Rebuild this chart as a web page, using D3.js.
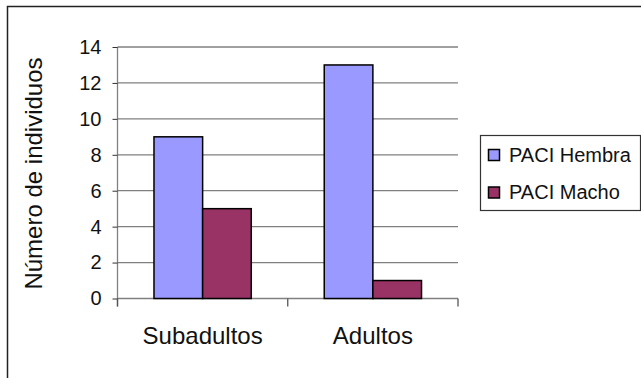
<!DOCTYPE html>
<html>
<head>
<meta charset="utf-8">
<script src="https://cdn.jsdelivr.net/npm/d3@7"></script>
<style>
  html, body { margin: 0; padding: 0; background: #fff; }
  svg { display: block; font-family: Arial, "Liberation Sans", sans-serif; }
</style>
</head>
<body>
<svg id="chart" width="641" height="378"></svg>
<script>
// Datos: número de individuos por clase de edad y sexo
const categories = ["Subadultos", "Adultos"];
const seriesNames = ["PACI Hembra", "PACI Macho"];
const hembra = [9, 13];
const macho = [5, 1];
const yTicks = [0, 2, 4, 6, 8, 10, 12, 14];
const seriesColors = ["#9999FF", "#993366"];

const svg = d3.select("#chart");

// Marco exterior del gráfico
svg.append("rect")
  .attr("x", 7.5).attr("y", 6.5)
  .attr("width", 700).attr("height", 400)
  .attr("fill", "none").attr("stroke", "#222").attr("stroke-width", 1.5);

const plot = { left: 117.5, right: 458, top: 47, bottom: 298.5 };

const x = d3.scaleBand()
  .domain(categories)
  .range([plot.left, plot.right])
  .paddingInner(0).paddingOuter(0);

const y = d3.scaleLinear()
  .domain([0, 14])
  .range([plot.bottom, plot.top]);

// Líneas de cuadrícula horizontales
svg.append("g")
  .selectAll("line")
  .data(yTicks)
  .join("line")
  .attr("x1", plot.left).attr("x2", plot.right)
  .attr("y1", d => y(d)).attr("y2", d => y(d))
  .attr("stroke", "#808080").attr("stroke-width", 1.3);

// Eje Y
const yAxis = svg.append("g")
  .attr("transform", `translate(${plot.left},0)`)
  .call(d3.axisLeft(y).tickValues(yTicks).tickSize(5).tickPadding(11).tickSizeOuter(0));
yAxis.select(".domain").attr("stroke", "#808080").attr("stroke-width", 1.3)
  .attr("d", `M0,${plot.top}V${plot.bottom + 8}`);
yAxis.selectAll(".tick line").attr("stroke", "#333").attr("stroke-width", 1);
yAxis.selectAll(".tick text")
  .attr("font-size", 20).attr("fill", "#111")
  .attr("font-family", "Arial, 'Liberation Sans', sans-serif");

// Eje X: marcas entre categorías
const xTickPos = [plot.left, x(categories[1]), plot.right];
svg.append("g").selectAll("line")
  .data(xTickPos)
  .join("line")
  .attr("x1", d => d).attr("x2", d => d)
  .attr("y1", plot.bottom).attr("y2", plot.bottom + 8)
  .attr("stroke", "#555").attr("stroke-width", 1.3);

svg.append("g").selectAll("text")
  .data(categories)
  .join("text")
  .attr("x", d => x(d) + x.bandwidth() / 2)
  .attr("y", 344)
  .attr("text-anchor", "middle")
  .attr("font-size", 24).attr("fill", "#111")
  .text(d => d);

// Barras agrupadas
const bw = x.bandwidth() / 3.5;
const groups = [hembra, macho];
groups.forEach((vals, si) => {
  svg.append("g").selectAll("rect")
    .data(vals)
    .join("rect")
    .attr("x", (d, i) => x(categories[i]) + x.bandwidth() / 2 - bw + si * bw)
    .attr("y", d => y(d))
    .attr("width", bw)
    .attr("height", d => y(0) - y(d))
    .attr("fill", seriesColors[si])
    .attr("stroke", "#000").attr("stroke-width", 1.5);
});

// Título del eje Y
svg.append("text")
  .attr("transform", `translate(41.5,${173.5}) rotate(-90)`)
  .attr("text-anchor", "middle")
  .attr("font-size", 24).attr("fill", "#111")
  .text("Número de individuos");

// Leyenda
const legend = svg.append("g");
legend.append("rect")
  .attr("x", 480.5).attr("y", 135.5)
  .attr("width", 160).attr("height", 75)
  .attr("fill", "#fff").attr("stroke", "#333").attr("stroke-width", 1.2);
seriesNames.forEach((name, i) => {
  const cy = 155 + i * 37.5;
  legend.append("rect")
    .attr("x", 488.5).attr("y", cy - 5.5)
    .attr("width", 11).attr("height", 11)
    .attr("fill", seriesColors[i]).attr("stroke", "#000").attr("stroke-width", 1.5);
  legend.append("text")
    .attr("x", 509).attr("y", cy + 6.5)
    .attr("font-size", 20).attr("fill", "#111")
    .text(name);
});
</script>
</body>
</html>
